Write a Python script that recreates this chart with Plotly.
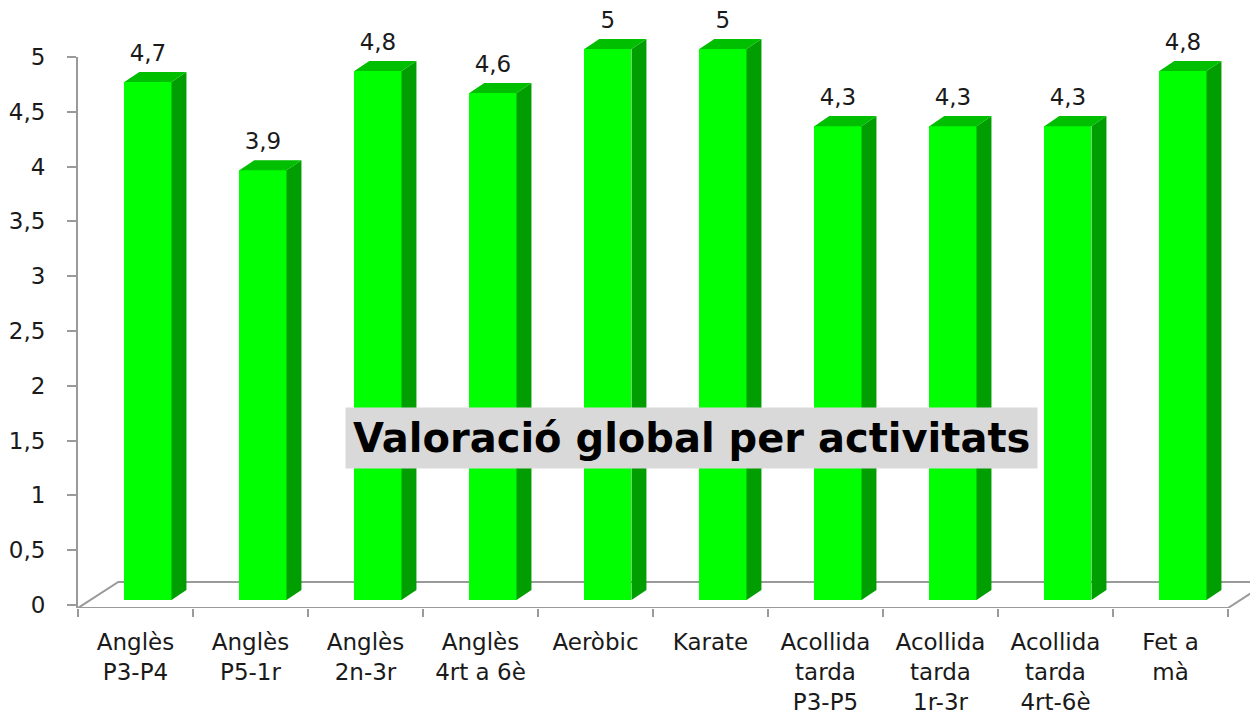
import plotly.graph_objects as go

# ---- data ----
categories = ["Anglès<br>P3-P4", "Anglès<br>P5-1r", "Anglès<br>2n-3r", "Anglès<br>4rt a 6è",
              "Aeròbic", "Karate", "Acollida<br>tarda<br>P3-P5", "Acollida<br>tarda<br>1r-3r",
              "Acollida<br>tarda<br>4rt-6è", "Fet a<br>mà"]
values = [4.7, 3.9, 4.8, 4.6, 5, 5, 4.3, 4.3, 4.3, 4.8]
ytick_vals = [0, 0.5, 1, 1.5, 2, 2.5, 3, 3.5, 4, 4.5, 5]
ytick_text = ["0", "0,5", "1", "1,5", "2", "2,5", "3", "3,5", "4", "4,5", "5"]
title_text = "Valoració global per activitats"

# ---- layout geometry (page has an 8px body margin) ----
O = 8
W, H = 1258 - O, 715 - O
FONT = "DejaVu Sans"
FRONT = "#00FF00"
SIDE = "#009E00"
TOP = "#00BE00"
GRAY = "#9A9A9A"
TXT = "#1a1a1a"
bar_w = 0.41        # bar width (category units)
bar_off = 0.108     # depth shift of bar vs front plane
dx, dy = 0.13, 0.091  # side depth (x units, y units)
fdx, fdy = 0.35, 0.236  # floor depth

PX_X = 115.0      # px per category
PX_Y1 = 110.2     # px per unit (bars)
PX_Y2 = 109.6     # px per unit (value axis)
left = 78 - O
bottom = 608 - O
label_lift = 5 / PX_Y1

xs = list(range(len(values)))
labels = [str(v).replace(".", ",") for v in values]

fig = go.Figure()

# front faces
fig.add_trace(go.Bar(x=xs, y=values, width=bar_w, offset=bar_off - bar_w / 2,
                     marker=dict(color=FRONT, line=dict(width=0)), cliponaxis=False,
                     hoverinfo="skip", showlegend=False))

# side and top faces
sx, sy, tx, ty = [], [], [], []
for i, v in zip(xs, values):
    x0 = i + bar_off - bar_w / 2
    x1 = i + bar_off + bar_w / 2
    sx += [x1, x1 + dx, x1 + dx, x1, x1, None]
    sy += [0, dy, v + dy, v, 0, None]
    tx += [x0, x1, x1 + dx, x0 + dx, x0, None]
    ty += [v, v, v + dy, v + dy, v, None]
fig.add_trace(go.Scatter(x=sx, y=sy, mode="lines", fill="toself", fillcolor=SIDE,
                         line=dict(width=0, color=SIDE), hoverinfo="skip", showlegend=False))
fig.add_trace(go.Scatter(x=tx, y=ty, mode="lines", fill="toself", fillcolor=TOP,
                         line=dict(width=0, color=TOP), hoverinfo="skip", showlegend=False))

# value labels
fig.add_trace(go.Scatter(x=[i + bar_off for i in xs], y=[v + dy + label_lift for v in values],
                         mode="text", text=labels, textposition="top center",
                         textfont=dict(family=FONT, size=23, color=TXT),
                         cliponaxis=False, hoverinfo="skip", showlegend=False))

# invisible helper so the value axis (y2) is rendered
fig.add_trace(go.Scatter(x=[xs[0]], y=[0], yaxis="y2", mode="markers",
                         marker=dict(opacity=0), hoverinfo="skip", showlegend=False))

# floor outline
y_front = -8 / PX_Y1
x_left = -0.5
x_right = len(values) - 0.5
fig.add_shape(type="path", xref="x", yref="y", layer="below",
              path=(f"M {x_left} {y_front} L {x_left + fdx} {y_front + fdy} "
                    f"L {x_right + fdx} {y_front + fdy} L {x_right} {y_front} Z"),
              line=dict(color=GRAY, width=2), fillcolor="white")

pw = W - left
fig.add_annotation(text=f"<b>{title_text}</b>", xref="paper", yref="paper",
                   x=(691 - O - left) / pw, y=1 - (437.5 - O) / H,
                   xanchor="center", yanchor="middle",
                   showarrow=False, bgcolor="#D9D9D9", borderpad=7,
                   font=dict(family=FONT, size=40, color="black"))

fig.update_layout(
    width=W, height=H,
    margin=dict(l=left, r=0, t=0, b=0),
    plot_bgcolor="rgba(0,0,0,0)", paper_bgcolor="white",
    showlegend=False, bargap=0,
    xaxis=dict(range=[-0.5, -0.5 + pw / PX_X], tickvals=xs, ticktext=categories,
               ticks="", ticklen=0, showgrid=False, zeroline=False, showline=False,
               anchor="y2", automargin=False, ticklabelstandoff=18,
               tickfont=dict(family=FONT, size=23, color=TXT),
               minor=dict(tickvals=[k - 0.5 for k in range(len(values) + 1)],
                          ticks="outside", ticklen=8, tickcolor=GRAY, tickwidth=2)),
    yaxis=dict(domain=[1 - bottom / H, 1 - (10 - O) / H],
               range=[-8 / PX_Y1, (600 - 10) / PX_Y1],
               visible=False, showgrid=False, zeroline=False),
    yaxis2=dict(domain=[1 - bottom / H, 1 - (57 - O) / H], range=[-3 / PX_Y2, 5], anchor="x",
                side="left", tickvals=ytick_vals, ticktext=ytick_text,
                ticks="outside", ticklen=9, tickcolor=GRAY, tickwidth=2,
                showline=True, linecolor=GRAY, linewidth=2, ticklabelstandoff=17,
                showgrid=False, zeroline=False, automargin=False,
                tickfont=dict(family=FONT, size=23, color=TXT)),
)

fig.write_html("out.html")
